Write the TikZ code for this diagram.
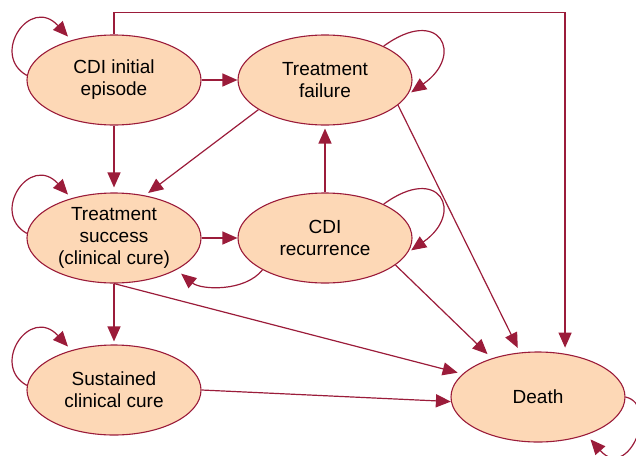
\documentclass[tikz,border=0pt]{standalone}
\usepackage{fontspec}
\setmainfont{Liberation Sans}
\usetikzlibrary{arrows.meta,shapes.geometric,calc}
\definecolor{ln}{RGB}{155,28,58}
\definecolor{pch}{RGB}{253,216,182}
\begin{document}
\begin{tikzpicture}[x=1pt,y=-1pt,
  state/.style={ellipse, draw=ln, fill=pch, line width=1.1pt, minimum width=174pt, minimum height=90pt, inner sep=0pt, align=center, font=\fontsize{19}{22}\selectfont},
  arr/.style={draw=ln, line width=1.2pt, -{Triangle[length=15pt,width=13pt]}}]
\useasboundingbox (0,0) rectangle (636,455);
\clip (0,0) rectangle (636,455);
\node[state] (init) at (114,80) {CDI initial\\episode};
\node[state] (fail) at (325,80) {Treatment\\failure};
\node[state] (succ) at (114,238) {Treatment\\success\\(clinical cure)};
\node[state] (recur) at (325,238) {CDI\\recurrence};
\node[state] (sust) at (114,390) {Sustained\\clinical cure};
\node[state] (death) at (538,397) {Death};
% straight connectors
\draw[arr] (init.east) -- (fail.west);
\draw[arr, shorten >=5pt] (init.south) -- (succ.north);
\draw[arr] (succ.east) -- (recur.west);
\draw[arr, shorten >=3pt] (succ.south) -- (sust.north);
\draw[arr, shorten >=3pt] (recur.north) -- (fail.south);
\draw[arr, shorten >=4pt] (fail.204) -- (succ.54);
\draw[arr, shorten >=5pt] (fail.-19) -- (death.112);
\draw[arr, shorten >=6pt] (recur.-21) -- (death.140);
\draw[arr, shorten >=5pt] (succ.south) -- (death.163);
\draw[arr] (sust.east) -- (death.183);
\draw[arr, shorten >=6pt] (init.north) -- ++(0,-22) -| (death.58);
% curved connector
\draw[arr, shorten >=6pt] (recur.207) .. controls (245,292) and (201,290) .. (succ.-27);
% self loops
\draw[arr, shorten >=5pt] (init.177) .. controls ($(init.center)+(-124,-25)$) and ($(init.center)+(-84,-85)$) .. (init.137);
\draw[arr, shorten >=5pt] (succ.177) .. controls ($(succ.center)+(-124,-25)$) and ($(succ.center)+(-84,-85)$) .. (succ.137);
\draw[arr, shorten >=5pt] (sust.177) .. controls ($(sust.center)+(-124,-25)$) and ($(sust.center)+(-84,-85)$) .. (sust.137);
\draw[arr, shorten >=4pt] (fail.30) .. controls ($(fail.center)+(115,-75)$) and ($(fail.center)+(140,-25)$) .. (fail.-10);
\draw[arr, shorten >=4pt] (recur.30) .. controls ($(recur.center)+(115,-75)$) and ($(recur.center)+(140,-25)$) .. (recur.-10);
\draw[arr, shorten >=6pt] (death.east) .. controls ($(death.center)+(122,8)$) and ($(death.center)+(90,85)$) .. (death.-38);
\end{tikzpicture}
\end{document}
